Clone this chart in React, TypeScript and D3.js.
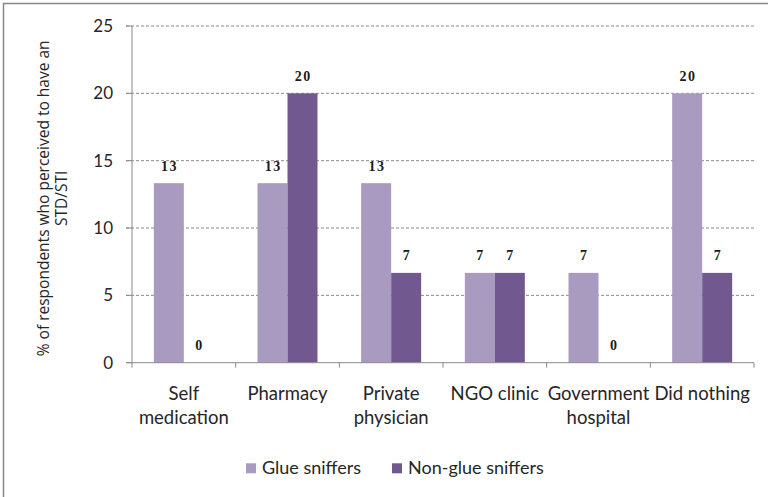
import React from "react";
import * as d3 from "d3";

const categories: string[][] = [
  ["Self", "medication"],
  ["Pharmacy"],
  ["Private", "physician"],
  ["NGO clinic"],
  ["Government", "hospital"],
  ["Did nothing"],
];
const seriesNames = ["Glue sniffers", "Non-glue sniffers"];
const glueSniffers = [13.33, 13.33, 13.33, 6.67, 6.67, 20];
const nonGlueSniffers = [0, 20, 6.67, 6.67, 0, 6.67];
const yTicks = [0, 5, 10, 15, 20, 25];
const colors = ["#A99BBF", "#71588F"];

const W = 768;
const H = 497;
const plot = { left: 132, right: 754, top: 26, bottom: 362.7 };

export default function App() {
  const x0 = d3
    .scaleBand<number>()
    .domain(categories.map((_, i) => i))
    .range([plot.left, plot.right])
    .paddingInner(0)
    .paddingOuter(0);
  const bw = x0.bandwidth();
  const barW = bw * (30 / 103.67);
  const gap = (bw - 2 * barW) / 2;
  const y = d3.scaleLinear().domain([0, 25]).range([plot.bottom, plot.top]);
  const series = [glueSniffers, nonGlueSniffers];
  const tickFont = "Lato, 'Open Sans', sans-serif";

  return (
    <svg
      width={W}
      height={H}
      style={{ position: "absolute", left: 0, top: 0, background: "#fff" }}
    >
      <rect x={3.5} y={3.5} width={W + 10} height={H + 10} fill="#fff" stroke="#878787" strokeWidth={1.5} />
      {/* gridlines */}
      {yTicks
        .filter((t) => t > 0)
        .map((t) => (
          <line
            key={"g" + t}
            x1={126}
            x2={plot.right}
            y1={y(t)}
            y2={y(t)}
            stroke="#8a8a8a"
            strokeWidth={1}
            strokeDasharray="3,2"
          />
        ))}
      {/* bars */}
      {series.map((vals, s) =>
        vals.map((v, i) => {
          const bx = (x0(i) as number) + gap + s * barW;
          return (
            <rect
              key={`b${s}-${i}`}
              x={bx}
              y={y(v)}
              width={barW}
              height={plot.bottom - y(v)}
              fill={colors[s]}
            />
          );
        })
      )}
      {/* value labels */}
      {series.map((vals, s) =>
        vals.map((v, i) => {
          const cx = (x0(i) as number) + gap + s * barW + barW / 2;
          return (
            <text
              key={`l${s}-${i}`}
              x={cx + 0.75}
              y={y(v) - 12.5}
              textAnchor="middle"
              fontFamily="'Liberation Serif', 'DejaVu Serif', serif"
              fontWeight="bold"
              fontSize={14}
              letterSpacing={1.5}
              fill="#1a1a1a"
            >
              {Math.round(v)}
            </text>
          );
        })
      )}
      {/* y axis */}
      <line x1={plot.left} x2={plot.left} y1={plot.top} y2={plot.bottom} stroke="#8a8a8a" strokeWidth={1} />
      {yTicks.map((t) => (
        <g key={"yt" + t}>
          <line x1={126} x2={plot.left} y1={y(t)} y2={y(t)} stroke="#8a8a8a" />
          <text
            x={113}
            y={y(t)}
            dy="0.35em"
            textAnchor="end"
            fontFamily={tickFont}
            fontSize={17}
            fill="#262626"
          >
            {t}
          </text>
        </g>
      ))}
      {/* x axis */}
      <line x1={126} x2={plot.right} y1={plot.bottom} y2={plot.bottom} stroke="#8a8a8a" strokeWidth={1} />
      {d3.range(categories.length + 1).map((i) => {
        const tx = plot.left + i * bw;
        return <line key={"xt" + i} x1={tx} x2={tx} y1={plot.bottom} y2={plot.bottom + 5} stroke="#8a8a8a" />;
      })}
      {categories.map((lines, i) => (
        <text
          key={"c" + i}
          x={(x0(i) as number) + bw / 2}
          y={399.5}
          textAnchor="middle"
          fontFamily={tickFont}
          fontSize={18.5}
          fill="#262626"
        >
          {lines.map((ln, k) => (
            <tspan key={k} x={(x0(i) as number) + bw / 2} dy={k === 0 ? 0 : 24}>
              {ln}
            </tspan>
          ))}
        </text>
      ))}
      {/* y title */}
      <text
        transform={`translate(49, ${(plot.top + plot.bottom) / 2 + 4}) rotate(-90)`}
        textAnchor="middle"
        fontFamily="'Open Sans', sans-serif"
        fontSize={15.5}
        fill="#262626"
      >
        <tspan x={0} dy={0}>% of respondents who perceived  to have an</tspan>
        <tspan x={0} dy={18}>STD/STI</tspan>
      </text>
      {/* legend */}
      {seriesNames.map((name, s) => {
        const lx = s === 0 ? 246 : 392;
        return (
          <g key={"lg" + s}>
            <rect x={lx} y={463.3} width={10} height={10} fill={colors[s]} />
            <text x={lx + 16} y={474} fontFamily={tickFont} fontSize={18} fill="#262626">
              {name}
            </text>
          </g>
        );
      })}
    </svg>
  );
}
